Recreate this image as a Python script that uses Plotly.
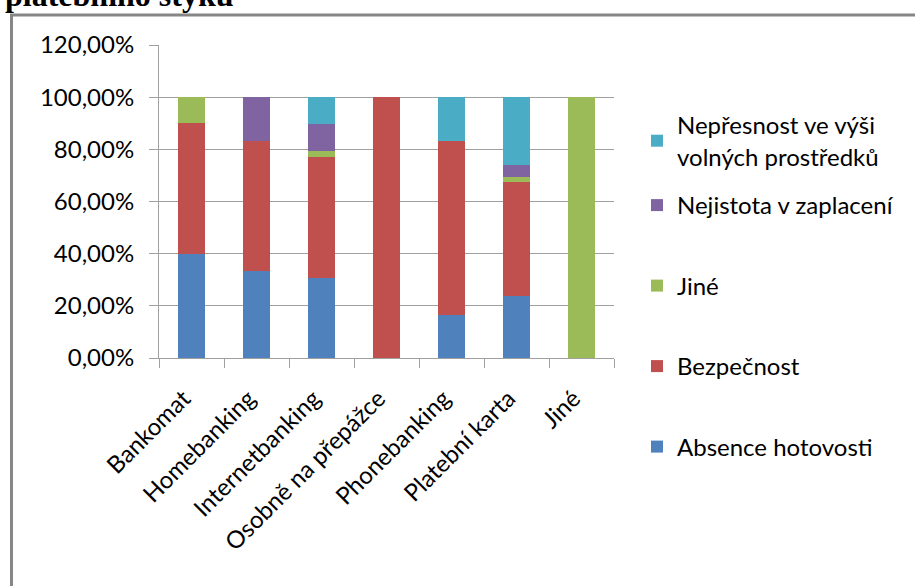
import plotly.graph_objects as go

# --- data -----------------------------------------------------------------
categories = ["Bankomat", "Homebanking", "Internetbanking", "Osobně na přepážce",
              "Phonebanking", "Platební karta", "Jiné"]

absence_hotovosti = [40.00, 33.33, 30.77, 0.00, 16.67, 23.91, 0.00]
bezpecnost = [50.00, 50.00, 46.15, 100.00, 66.67, 43.48, 0.00]
jine = [10.00, 0.00, 2.56, 0.00, 0.00, 2.17, 100.00]
nejistota = [0.00, 16.67, 10.26, 0.00, 0.00, 4.35, 0.00]
nepresnost = [0.00, 0.00, 10.26, 0.00, 16.67, 26.09, 0.00]

series_names = ["Absence hotovosti", "Bezpečnost", "Jiné",
                "Nejistota v zaplacení", "Nepřesnost ve výši<br>volných prostředků"]
series_values = [absence_hotovosti, bezpecnost, jine, nejistota, nepresnost]
series_colors = ["#4F81BD", "#C0504D", "#9BBB59", "#8064A2", "#4BACC6"]

y_tick_vals = [0, 20, 40, 60, 80, 100, 120]
y_tick_text = ["0,00%", "20,00%", "40,00%", "60,00%", "80,00%", "100,00%", "120,00%"]

# --- page geometry (pixels) ------------------------------------------------
W, H = 915, 586
PL, PR, PT, PB = 159, 614, 45, 358          # plot-area edges


def px_x(x):
    return (x - PL) / (PR - PL)


def px_y(y):
    return (PB - y) / (PB - PT)


FONT = "Lato, Carlito, Calibri, sans-serif"
FS = 24
TXT = "#000000"
GRID = "#A0A0A0"

fig = go.Figure()
n = len(series_names)
for i, (name, vals, col) in enumerate(zip(series_names, series_values, series_colors)):
    fig.add_trace(go.Bar(
        x=categories, y=vals, name=name,
        marker=dict(color=col, line=dict(width=0)),
        legendgroup=f"g{i}",
        legendrank=n - i,                       # top of the stack listed first
        legend="legend2" if i == n - 1 else "legend",
        hovertemplate="%{x}: %{y:.2f}%<extra>" + name + "</extra>",
    ))

fig.update_layout(
    width=W, height=H,
    margin=dict(l=PL, r=W - PR, t=PT, b=H - PB),
    paper_bgcolor="white", plot_bgcolor="white",
    barmode="stack", bargap=0.585,
    font=dict(family=FONT, size=FS, color=TXT),
    legend=dict(
        xref="container", yref="container",
        x=637 / W, y=1 - 183 / H, xanchor="left", yanchor="top",
        traceorder="grouped", tracegroupgap=46.3,
        font=dict(family=FONT, size=FS, color=TXT),
        bgcolor="rgba(0,0,0,0)",
    ),
    legend2=dict(
        xref="container", yref="container",
        x=637 / W, y=1 - 103 / H, xanchor="left", yanchor="top",
        font=dict(family=FONT, size=FS, color=TXT),
        bgcolor="rgba(0,0,0,0)",
    ),
    showlegend=True,
)

fig.update_xaxes(
    type="category", tickangle=-45,
    showline=True, linecolor=GRID, linewidth=1,
    ticks="outside", tickson="boundaries", ticklen=9, tickcolor=GRID,
    showgrid=False,
    ticklabelstandoff=16, ticklabelshift=-8,
    tickfont=dict(family=FONT, size=FS, color=TXT),
)
fig.update_yaxes(
    range=[0, 120], tickvals=y_tick_vals, ticktext=y_tick_text,
    showline=True, linecolor=GRID, linewidth=1,
    ticks="outside", ticklen=9, tickcolor=GRID,
    showgrid=True, gridcolor=GRID, gridwidth=1,
    zeroline=False,
    ticklabelstandoff=10,
    tickfont=dict(family=FONT, size=FS, color=TXT),
)

# chart frame
fig.add_shape(
    type="rect", xref="paper", yref="paper",
    x0=px_x(11.5), x1=px_x(W + 20), y0=px_y(15), y1=px_y(H + 20),
    line=dict(color="#868686", width=3), fillcolor="rgba(0,0,0,0)", layer="below",
)

# caption text above the frame
fig.add_annotation(
    xref="paper", yref="paper", x=px_x(3), y=px_y(15),
    xanchor="left", yanchor="bottom", showarrow=False,
    text="<b>platebního styku</b>",
    font=dict(family="Liberation Serif, Times New Roman, serif", size=32, color="#000000"),
)

fig.write_html("out.html")
